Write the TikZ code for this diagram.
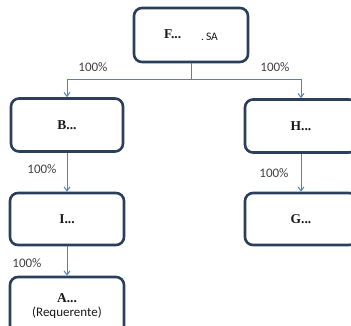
\documentclass[tikz,border=0pt]{standalone}
\usepackage{fontspec}
\setmainfont{Liberation Serif}
\newfontfamily\calfont{Carlito}
\usetikzlibrary{arrows.meta}
\definecolor{boxline}{HTML}{2B3F5A}
\definecolor{conn}{HTML}{4F81BD}
\definecolor{pct}{HTML}{404040}
\tikzset{
  orgbox/.style={draw=boxline, line width=2.6pt, rounded corners=8pt, fill=white,
    minimum height=53pt, inner sep=0pt, font=\fontsize{13.5}{15}\selectfont\bfseries, text=black!90},
  link/.style={draw=conn, line width=1pt},
  linkarrow/.style={link, -{Straight Barb[length=4pt,width=6pt]}},
  pctlabel/.style={font=\calfont\fontsize{13}{15}\selectfont, text=pct, inner sep=0pt}
}
\begin{document}
\begin{tikzpicture}[x=1pt,y=-1pt]
\useasboundingbox (0,0) rectangle (351,325);
\clip (0,0) rectangle (351,325);
% boxes
\node[orgbox, minimum width=114pt, minimum height=54pt] (F) at (191,35)
  {F...\hspace{20pt}{\calfont\mdseries\fontsize{11.5}{13}\selectfont\raisebox{-2pt}{.\,SA}}};
\node[orgbox, minimum width=112pt] (B) at (67,125) {B...};
\node[orgbox, minimum width=112pt] (H) at (301,126) {H...};
\node[orgbox, minimum width=114pt, minimum height=52pt] (I) at (67,219) {I...};
\node[orgbox, minimum width=112pt, minimum height=52pt] (G) at (301,219) {G...};
\node[orgbox, minimum width=114pt, minimum height=58pt, align=center] (A) at (67,306)
  {A...\\[-1pt]{\calfont\mdseries\fontsize{13}{15}\selectfont (Requerente)}};
% connectors
\coordinate (J) at (191,79);
\draw[link] (F.south) -- (J);
\draw[linkarrow] (J) -| (B.north);
\draw[linkarrow] (J) -| (H.north);
\draw[linkarrow] (B.south) -- (I.north);
\draw[linkarrow] (I.south) -- (A.north);
\draw[linkarrow] (H.south) -- (G.north);
% labels
\node[pctlabel] (p1) at (93,67) {100\%};
\node[pctlabel] (p2) at (275,67) {100\%};
\node[pctlabel] (p3) at (42,169) {100\%};
\node[pctlabel] (p4) at (27,263) {100\%};
\node[pctlabel] (p5) at (274,173) {100\%};
\end{tikzpicture}
\end{document}
